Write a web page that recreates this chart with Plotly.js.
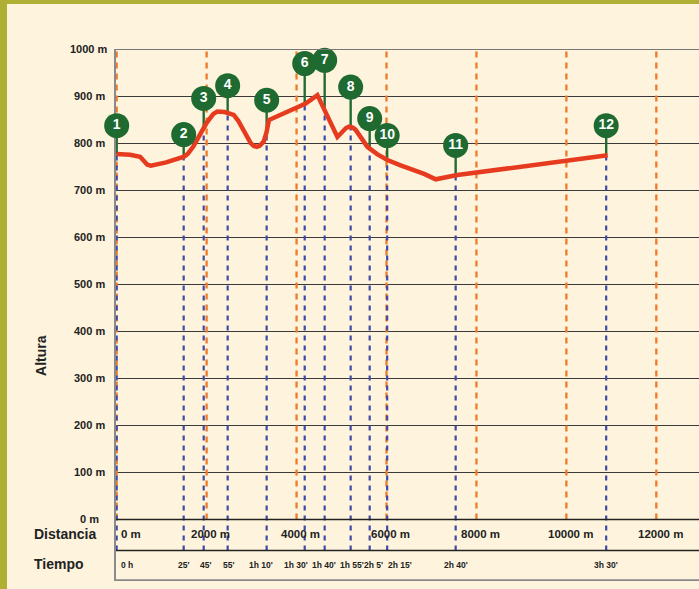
<!DOCTYPE html>
<html>
<head>
<meta charset="utf-8">
<script src="https://cdn.plot.ly/plotly-3.0.1.min.js"></script>
<style>
  html, body { margin: 0; padding: 0; background: #FEF4DD; }
  #wrap { position: relative; width: 699px; height: 589px; overflow: hidden; }
  #chart { position: absolute; left: 0; top: 0; width: 699px; height: 589px; }
  #bl { position: absolute; left: 0; top: 0; width: 7px; height: 589px; background: #AFAF35; }
  #bt { position: absolute; left: 0; top: 0; width: 699px; height: 4px; background: #AFAF35; }
</style>
</head>
<body>
<div id="wrap">
  <div id="chart"></div>
  <div id="bl"></div>
  <div id="bt"></div>
</div>
<script>
// ---- data ----
var profileDist = [0, 300, 520, 600, 683, 760, 1100, 1497, 1580, 1700, 1868, 2000, 2150, 2239, 2400, 2602, 2700, 2795, 2900, 2980, 3050, 3113, 3180, 3269, 3330, 3386, 4203, 4463, 4908, 5000, 5100, 5166, 5250, 5315, 5450, 5575, 5800, 6020, 6300, 6604, 6850, 7094, 7576, 10918];
var profileAlt  = [777, 775, 771, 762, 754, 752, 759, 771, 777, 792, 821, 843, 862, 867, 866, 860, 848, 832, 812, 800, 794, 792, 794, 803, 822, 849, 884, 902, 813, 822, 832, 835, 833, 828, 808, 792, 776, 764, 753, 743, 734, 723, 732, 774];

var pointLabel = ['1','2','3','4','5','6','7','8','9','10','11','12'];
var pointDist  = [0, 1490, 1935, 2468, 3335, 4181, 4625, 5203, 5626, 6015, 7538, 10885];
var markerAlt  = [837, 818, 895, 922, 891, 969, 976, 919, 852, 816, 795, 837];
var pointTime  = ["0 h", "25'", "45'", "55'", "1h 10'", "1h 30'", "1h 40'", "1h 55'", "2h 5'", "2h 15'", "2h 40'", "3h 30'"];

var distTicks = [0, 2000, 4000, 6000, 8000, 10000, 12000];
var distTickLabels = ['0 m', '2000 m', '4000 m', '6000 m', '8000 m', '10000 m', '12000 m'];
var altTicks = [0, 100, 200, 300, 400, 500, 600, 700, 800, 900, 1000];
var altTickLabels = ['0 m', '100 m', '200 m', '300 m', '400 m', '500 m', '600 m', '700 m', '800 m', '900 m', '1000 m'];

// ---- helpers ----
function altAt(d) {
  for (var i = 0; i < profileDist.length - 1; i++) {
    if (d >= profileDist[i] && d <= profileDist[i + 1]) {
      var t = (d - profileDist[i]) / (profileDist[i + 1] - profileDist[i]);
      return profileAlt[i] + t * (profileAlt[i + 1] - profileAlt[i]);
    }
  }
  return profileAlt[profileAlt.length - 1];
}

var ROW1 = -66, ROW2 = -131;
var timeShift = [0, 0, 2, 1, -6, -9, -1, 1, 4, 13, 0, 0];

var ox = [], oy = [];
distTicks.forEach(function (d) { ox.push(d, d, null); oy.push(0, 995, null); });
var bx = [], by = [];
pointDist.forEach(function (d) { bx.push(d, d, null); by.push(ROW1, altAt(d), null); });
var gx = [], gy = [];
pointDist.forEach(function (d, i) { gx.push(d, d, null); gy.push(altAt(d), markerAlt[i], null); });

var traces = [
  { x: ox, y: oy, mode: 'lines', line: { color: '#F07A2A', width: 2.3, dash: '6px,5px' }, hoverinfo: 'skip' },
  { x: bx, y: by, mode: 'lines', line: { color: '#3F49A6', width: 2.2, dash: '5px,5px' }, hoverinfo: 'skip' },
  { x: gx, y: gy, mode: 'lines', line: { color: '#246B33', width: 2.4 }, hoverinfo: 'skip' },
  { x: profileDist, y: profileAlt, mode: 'lines', line: { color: '#E63B1E', width: 4.5 }, hoverinfo: 'skip' },
  { x: pointDist, y: markerAlt, mode: 'markers+text', text: pointLabel, textposition: 'middle center',
    cliponaxis: false,
    marker: { size: 25, color: '#1E6A30', line: { width: 0 } },
    textfont: { family: 'Liberation Sans, Arial, sans-serif', size: 14, color: '#ffffff', weight: 'bold' },
    hoverinfo: 'skip' }
];

var FONT = 'Liberation Sans, Arial, sans-serif';
var ann = [];
altTicks.forEach(function (v, i) {
  ann.push({ xref: 'paper', yref: 'y', x: -0.0455, y: v, text: '<b>' + altTickLabels[i] + '</b>',
    showarrow: false, xanchor: 'center', yanchor: 'middle', font: { family: FONT, size: 11, color: '#222' } });
});
distTicks.forEach(function (d, i) {
  ann.push({ xref: 'x', yref: 'y', x: d, y: -32, text: '<b>' + distTickLabels[i] + '</b>', showarrow: false,
    xanchor: i === 0 ? 'left' : 'center', xshift: i === 0 ? 2 : 4, yanchor: 'middle',
    font: { family: FONT, size: 11.5, color: '#222' } });
});
pointDist.forEach(function (d, i) {
  ann.push({ xref: 'x', yref: 'y', x: d, y: -96, text: '<b>' + pointTime[i] + '</b>', showarrow: false,
    xanchor: i === 0 ? 'left' : 'center', xshift: i === 0 ? 2 : timeShift[i], yanchor: 'middle',
    font: { family: FONT, size: 8.5, color: '#222' } });
});
ann.push({ xref: 'paper', yref: 'y', x: -0.1441, y: -32, text: '<b>Distancia</b>', showarrow: false,
  xanchor: 'left', yanchor: 'middle', font: { family: FONT, size: 14, color: '#222' } });
ann.push({ xref: 'paper', yref: 'y', x: -0.1441, y: -95, text: '<b>Tiempo</b>', showarrow: false,
  xanchor: 'left', yanchor: 'middle', font: { family: FONT, size: 14, color: '#222' } });
ann.push({ xref: 'paper', yref: 'y', x: -0.130, y: 348, text: '<b>Altura</b>', showarrow: false, textangle: -90,
  xanchor: 'center', yanchor: 'middle', font: { family: FONT, size: 14, color: '#222' } });

var shapes = [
  { type: 'line', xref: 'paper', yref: 'y', x0: 0, x1: 1, y0: 0, y1: 0, line: { color: '#222', width: 1.5 } },
  { type: 'line', xref: 'paper', yref: 'y', x0: 0, x1: 1, y0: ROW1, y1: ROW1, line: { color: '#222', width: 1.5 } },
  { type: 'line', xref: 'paper', yref: 'y', x0: 0, x1: 1, y0: ROW2 + 1.5, y1: ROW2 + 1.5, line: { color: '#888', width: 2 } },
  { type: 'line', xref: 'paper', yref: 'y', x0: 0, x1: 1, y0: 1000, y1: 1000, line: { color: '#777', width: 2 } }
];

var layout = {
  width: 699, height: 589,
  margin: { l: 116, r: 0, t: 49, b: 8, pad: 0 },
  paper_bgcolor: '#FEF4DD', plot_bgcolor: '#FEF4DD',
  showlegend: false,
  xaxis: { range: [-15, 12949], showgrid: false, zeroline: false, showticklabels: false, ticks: '', showline: false, fixedrange: true },
  yaxis: { range: [-131, 1000], tickvals: [100, 200, 300, 400, 500, 600, 700, 800, 900], showgrid: true,
    gridcolor: '#3a3a3a', gridwidth: 1, zeroline: false, showticklabels: false, ticks: '',
    showline: true, linecolor: '#8a8a8a', linewidth: 2, layer: 'below traces', fixedrange: true },
  annotations: ann,
  shapes: shapes
};

Plotly.newPlot('chart', traces, layout, { displayModeBar: false, staticPlot: true });
</script>
</body>
</html>
